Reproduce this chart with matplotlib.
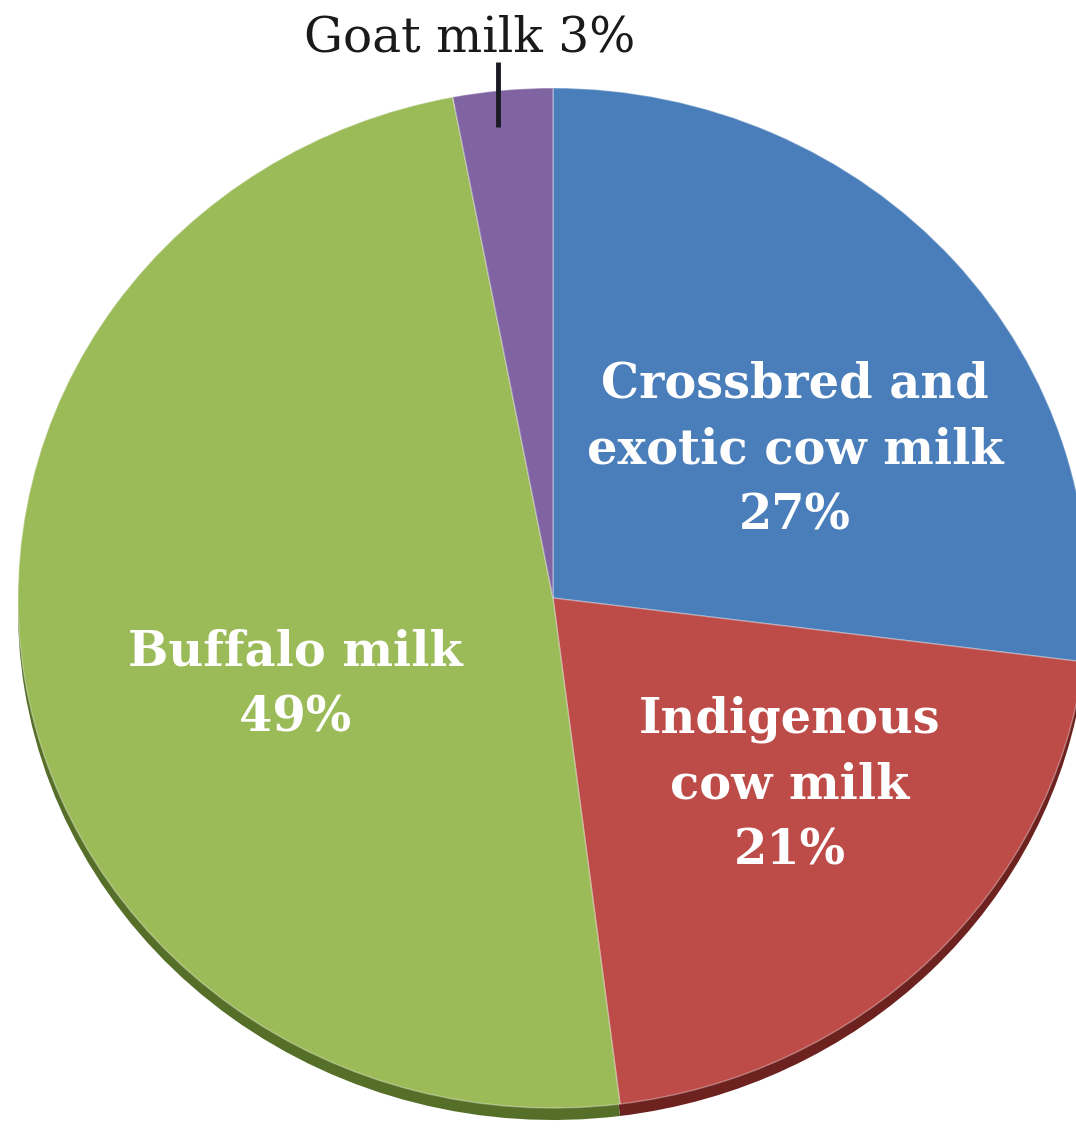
import numpy as np
import matplotlib.pyplot as plt

# milk production share (%), clockwise from 12 o'clock
labels = ['Crossbred and\nexotic cow milk\n27%', 'Indigenous\ncow milk\n21%',
          'Buffalo milk\n49%', 'Goat milk 3%']
shares = [27, 21, 49, 3]
colors = ['#4a7ebb', '#bd4b48', '#9bbb59', '#8064a2']
rim_colors = ['#2f5584', '#6e2220', '#566f28', '#55406f']

W, H = 1076, 1134
fig = plt.figure(figsize=(W / 100, H / 100), dpi=100)
ax = fig.add_axes([0, 0, 1, 1])

# pie centre and radii in pixels
cx, cy = 553, 598
rx, ry = 535, 510

# shadow rim (3d look) drawn a little lower
ax.pie(shares, colors=rim_colors, startangle=90, counterclock=False,
       radius=1, center=(0, -12 / ry), wedgeprops=dict(linewidth=0))
wedges, _ = ax.pie(shares, colors=colors, startangle=90, counterclock=False,
                   radius=1, center=(0, 0),
                   wedgeprops=dict(linewidth=1.0, edgecolor=(1, 1, 1, 0.35)))

ax.set_aspect('auto')
ax.set_xlim(-cx / rx, (W - cx) / rx)
ax.set_ylim(-(H - cy) / ry, cy / ry)
ax.axis('off')


def px(x, y):
    return (x - cx) / rx, (cy - y) / ry


# labels inside the slices
txt = dict(color='white', fontsize=34.5, fontweight='bold', family='DejaVu Serif',
           ha='center', va='center', linespacing=1.5)
ax.text(*px(795, 450), labels[0], **txt)
ax.text(*px(790, 785), labels[1], **txt)
ax.text(*px(295, 685), labels[2], **txt)

# goat milk label with leader line
ax.text(*px(470, 38), labels[3], color='#1a1a1a', fontsize=35,
        family='DejaVu Serif', ha='center', va='center')
x0, y0 = px(498, 62)
x1, y1 = px(498, 127)
ax.plot([x0, x1], [y0, y1], color='#1a1a24', linewidth=3.5, solid_capstyle='butt')

fig.savefig('out.png', dpi=100, facecolor='white')
